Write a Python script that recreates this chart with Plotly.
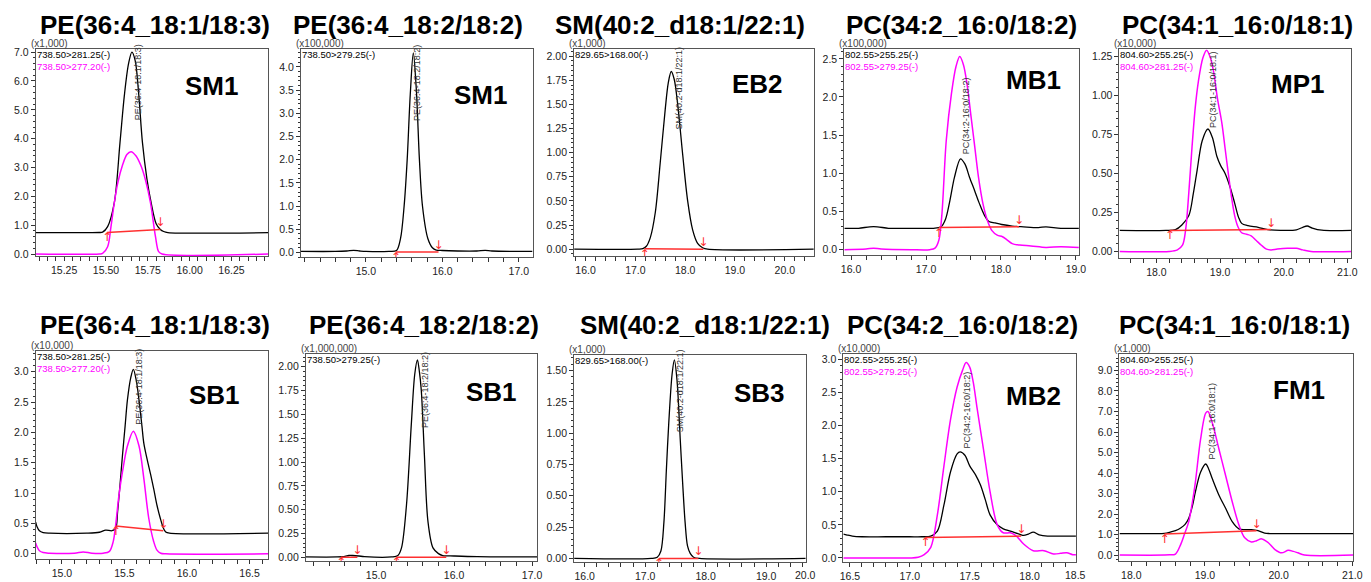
import plotly.graph_objects as go

# ------------------------------------------------------------------ data
# Row 1, col 1 : PE(36:4_18:1/18:3)  SM1  (x1,000)
p1_t_black = [15.08, 15.40, 15.46, 15.48, 15.51, 15.55, 15.584, 15.61, 15.635, 15.655, 15.675, 15.695, 15.718, 15.745, 15.77, 15.80, 15.825, 15.845, 15.87, 16.47]
p1_y_black = [0.74, 0.74, 0.745, 0.76, 0.95, 1.78, 3.87, 5.5, 6.6, 7.0, 6.7, 5.6, 3.87, 2.6, 1.78, 1.05, 0.85, 0.78, 0.745, 0.74]
p1_t_mag = [15.08, 15.46, 15.48, 15.51, 15.53, 15.55, 15.57, 15.60, 15.625, 15.65, 15.68, 15.71, 15.737, 15.766, 15.796, 15.815, 15.835, 16.47]
p1_y_mag = [0, 0, 0.02, 0.25, 0.95, 1.78, 2.45, 3.1, 3.45, 3.55, 3.4, 3.05, 2.55, 1.78, 0.6, 0.08, 0, 0]
p1_red_t = [15.506, 15.825]
p1_red_y = [0.75, 0.85]

# Row 1, col 2 : PE(36:4_18:2/18:2)  SM1  (x100,000)
p2_t_black = [14.15, 14.6, 14.75, 14.84, 14.92, 15.0, 15.3, 15.4, 15.453, 15.50, 15.54, 15.58, 15.62, 15.66, 15.70, 15.74, 15.81, 15.87, 15.92, 16.0, 16.2, 16.45, 16.56, 16.65, 17.18]
p2_y_black = [0.02, 0.02, 0.03, 0.045, 0.03, 0.02, 0.02, 0.04, 0.3, 1.0, 2.0, 3.4, 4.3, 3.5, 2.0, 1.0, 0.3, 0.1, 0.05, 0.04, 0.03, 0.03, 0.045, 0.03, 0.02]
p2_red_t = [15.39, 15.95]
p2_red_y = [0.01, 0.01]

# Row 1, col 3 : SM(40:2_d18:1/22:1)  EB2  (x1,000)
p3_t_black = [15.77, 17.05, 17.15, 17.22, 17.30, 17.40, 17.50, 17.60, 17.66, 17.72, 17.78, 17.85, 17.95, 18.05, 18.15, 18.25, 18.35, 18.45, 20.6]
p3_y_black = [0, 0, 0.005, 0.03, 0.12, 0.38, 0.9, 1.45, 1.72, 1.84, 1.76, 1.5, 0.98, 0.5, 0.2, 0.06, 0.015, 0.0, 0]
p3_red_t = [17.185, 18.366]
p3_red_y = [0.005, 0.0]

# Row 1, col 4 : PC(34:2_16:0/18:2)  MB1  (x100,000)
p4_t_black = [15.91, 16.1, 16.25, 16.35, 16.5, 16.7, 16.9, 17.1, 17.2, 17.26, 17.32, 17.38, 17.46, 17.52, 17.58, 17.65, 17.71, 17.78, 17.84, 17.92, 18.01, 18.15, 18.3, 18.5, 18.6, 18.8, 19.04]
p4_y_black = [0.28, 0.28, 0.30, 0.30, 0.28, 0.28, 0.28, 0.28, 0.30, 0.40, 0.65, 0.95, 1.19, 1.12, 0.95, 0.77, 0.61, 0.45, 0.37, 0.35, 0.33, 0.31, 0.30, 0.29, 0.30, 0.28, 0.28]
p4_t_mag = [15.91, 16.2, 16.3, 16.4, 16.8, 17.05, 17.12, 17.17, 17.21, 17.27, 17.34, 17.40, 17.45, 17.50, 17.55, 17.60, 17.65, 17.70, 17.76, 17.82, 17.88, 17.95, 18.02, 18.08, 18.15, 18.25, 18.4, 18.6, 18.8, 19.04]
p4_y_mag = [0.0, 0.01, 0.02, 0.01, 0.0, 0.0, 0.02, 0.12, 0.44, 1.43, 2.05, 2.4, 2.53, 2.42, 2.15, 1.75, 1.35, 0.95, 0.6, 0.38, 0.25, 0.19, 0.17, 0.13, 0.08, 0.06, 0.05, 0.03, 0.04, 0.03]
p4_red_t = [17.17, 18.24]
p4_red_y = [0.29, 0.30]

# Row 1, col 5 : PC(34:1_16:0/18:1)  MP1  (x10,000)
p5_t_black = [17.42, 18.15, 18.3, 18.4, 18.51, 18.58, 18.64, 18.72, 18.81, 18.88, 18.95, 19.01, 19.08, 19.16, 19.23, 19.29, 19.34, 19.44, 19.6, 19.75, 19.95, 20.2, 20.3, 20.37, 20.45, 20.6, 21.06]
p5_y_black = [0.135, 0.135, 0.14, 0.17, 0.23, 0.37, 0.52, 0.71, 0.785, 0.73, 0.61, 0.55, 0.50, 0.41, 0.31, 0.22, 0.18, 0.165, 0.155, 0.14, 0.135, 0.138, 0.155, 0.163, 0.15, 0.136, 0.135]
p5_t_mag = [17.42, 18.2, 18.33, 18.41, 18.46, 18.51, 18.56, 18.61, 18.66, 18.73, 18.79, 18.85, 18.90, 18.96, 19.03, 19.08, 19.13, 19.18, 19.23, 19.28, 19.34, 19.42, 19.49, 19.57, 19.65, 19.73, 19.80, 19.9, 20.06, 20.2, 20.3, 20.43, 21.06]
p5_y_mag = [0, 0, 0.01, 0.04, 0.14, 0.38, 0.67, 0.92, 1.09, 1.24, 1.29, 1.24, 1.15, 0.98, 0.82, 0.66, 0.5, 0.35, 0.23, 0.16, 0.12, 0.11, 0.10, 0.07, 0.04, 0.015, 0.01, 0.015, 0.02, 0.02, 0.01, 0.0, 0.0]
p5_red_t = [18.21, 19.80]
p5_red_y = [0.135, 0.14]

# Row 2, col 1 : PE(36:4_18:1/18:3)  SB1  (x10,000)
p6_t_black = [14.79, 14.80, 14.82, 14.85, 14.90, 15.20, 15.30, 15.35, 15.40, 15.43, 15.445, 15.465, 15.484, 15.505, 15.524, 15.55, 15.571, 15.595, 15.616, 15.64, 15.655, 15.681, 15.71, 15.734, 15.76, 15.786, 15.812, 15.83, 15.86, 16.65]
p6_y_black = [0.52, 0.45, 0.38, 0.35, 0.34, 0.34, 0.355, 0.39, 0.38, 0.42, 0.69, 1.15, 1.62, 2.1, 2.54, 2.9, 3.04, 2.85, 2.54, 2.1, 1.82, 1.56, 1.3, 1.07, 0.8, 0.59, 0.42, 0.36, 0.34, 0.34]
p6_t_mag = [14.79, 14.80, 14.82, 14.85, 14.90, 15.10, 15.17, 15.24, 15.33, 15.38, 15.41, 15.43, 15.455, 15.484, 15.524, 15.571, 15.616, 15.655, 15.694, 15.734, 15.76, 15.79, 15.83, 16.65]
p6_y_mag = [0.18, 0.12, 0.05, 0.02, 0.01, 0.01, 0.03, 0.01, 0.01, 0.04, 0.2, 0.48, 0.95, 1.35, 1.78, 2.02, 1.78, 1.24, 0.59, 0.2, 0.06, 0.01, 0, 0]
p6_red_t = [15.43, 15.81]
p6_red_y = [0.46, 0.38]

# Row 2, col 2 : PE(36:4_18:2/18:2)  SB1  (x1,000,000)
p7_t_black = [14.1, 14.5, 14.6, 14.65, 14.7, 14.78, 14.85, 15.2, 15.28, 15.326, 15.39, 15.453, 15.496, 15.53, 15.555, 15.58, 15.62, 15.665, 15.73, 15.8, 15.855, 16.0, 16.3, 17.07]
p7_y_black = [0.005, 0.005, 0.01, 0.02, 0.02, 0.015, 0.008, 0.005, 0.02, 0.1, 0.55, 1.41, 1.92, 2.07, 1.95, 1.75, 1.07, 0.38, 0.1, 0.04, 0.02, 0.015, 0.008, 0.005]
p7_red_t = [14.55, 14.76, None, 15.26, 15.90]
p7_red_y = [0.003, 0.003, None, 0.003, 0.003]

# Row 2, col 3 : SM(40:2_d18:1/22:1)  SB3  (x1,000)
p8_t_black = [15.825, 17.1, 17.2, 17.26, 17.31, 17.35, 17.39, 17.445, 17.483, 17.527, 17.58, 17.62, 17.66, 17.70, 17.745, 17.8, 17.9, 19.655]
p8_y_black = [0, 0, 0.01, 0.06, 0.29, 0.7, 1.08, 1.47, 1.585, 1.42, 0.95, 0.6, 0.29, 0.1, 0.04, 0.01, 0, 0]
p8_red_t = [17.227, 17.88]
p8_red_y = [0.0, 0.0]

# Row 2, col 4 : PC(34:2_16:0/18:2)  MB2  (x10,000)
p9_t_black = [16.445, 16.47, 16.52, 16.6, 16.8, 17.0, 17.1, 17.175, 17.23, 17.285, 17.34, 17.395, 17.42, 17.46, 17.5, 17.55, 17.59, 17.63, 17.67, 17.73, 17.78, 17.84, 17.92, 17.95, 17.99, 18.03, 18.08, 18.15, 18.25, 18.387]
p9_y_black = [0.36, 0.35, 0.33, 0.32, 0.32, 0.32, 0.32, 0.33, 0.405, 0.80, 1.30, 1.57, 1.60, 1.55, 1.39, 1.25, 1.10, 0.88, 0.65, 0.50, 0.44, 0.405, 0.356, 0.34, 0.36, 0.39, 0.35, 0.33, 0.33, 0.33]
p9_t_mag = [16.445, 16.8, 17.0, 17.07, 17.12, 17.175, 17.23, 17.285, 17.34, 17.395, 17.44, 17.47, 17.5, 17.53, 17.56, 17.615, 17.67, 17.73, 17.78, 17.84, 17.89, 17.95, 18.03, 18.12, 18.2, 18.26, 18.31, 18.36, 18.387]
p9_y_mag = [0, 0, 0, 0.01, 0.05, 0.16, 0.65, 1.39, 2.09, 2.58, 2.83, 2.95, 2.88, 2.65, 2.28, 1.64, 1.0, 0.50, 0.38, 0.38, 0.33, 0.21, 0.11, 0.11, 0.06, 0.07, 0.08, 0.05, 0.05]
p9_red_t = [17.13, 17.93]
p9_red_y = [0.31, 0.33]

# Row 2, col 5 : PC(34:1_16:0/18:1)  FM1  (x1,000)
p10_t_black = [17.84, 18.3, 18.45, 18.53, 18.60, 18.67, 18.73, 18.78, 18.83, 18.87, 18.94, 19.01, 19.05, 19.10, 19.19, 19.28, 19.37, 19.46, 19.54, 19.63, 19.72, 19.81, 19.88, 20.0, 21.01]
p10_y_black = [1.05, 1.05, 1.06, 1.12, 1.19, 1.32, 1.5, 1.8, 2.4, 3.08, 4.04, 4.44, 4.2, 3.72, 2.92, 2.28, 1.63, 1.28, 1.24, 1.24, 1.19, 1.07, 1.05, 1.05, 1.05]
p10_t_mag = [17.84, 18.45, 18.52, 18.60, 18.67, 18.72, 18.78, 18.83, 18.87, 18.94, 19.01, 19.04, 19.10, 19.19, 19.28, 19.37, 19.46, 19.54, 19.63, 19.70, 19.77, 19.86, 19.95, 20.04, 20.13, 20.2, 20.26, 20.35, 21.01]
p10_y_mag = [0, 0, 0.01, 0.05, 0.51, 1.0, 1.63, 2.6, 3.56, 5.64, 6.92, 7.0, 6.44, 5.16, 3.88, 2.6, 1.48, 0.84, 0.64, 0.7, 0.79, 0.6, 0.27, 0.11, 0.23, 0.18, 0.11, 0.0, 0.0]
p10_red_t = [18.45, 19.70]
p10_red_y = [1.03, 1.19]

titles = ["PE(36:4_18:1/18:3)", "PE(36:4_18:2/18:2)", "SM(40:2_d18:1/22:1)",
          "PC(34:2_16:0/18:2)", "PC(34:1_16:0/18:1)"]
peak_names = ["PE(36:4-18:1/18:3)", "PE(36:4-18:2/18:2)", "SM(40:2-d18:1/22:1)",
              "PC(34:2-16:0/18:2)", "PC(34:1-16:0/18:1)"]
samples = ["SM1", "SM1", "EB2", "MB1", "MP1", "SB1", "SB1", "SB3", "MB2", "FM1"]
multipliers = ["(x1,000)", "(x100,000)", "(x1,000)", "(x100,000)", "(x10,000)",
               "(x10,000)", "(x1,000,000)", "(x1,000)", "(x10,000)", "(x1,000)"]
mrm_black = ["738.50>281.25(-)", "738.50>279.25(-)", "829.65>168.00(-)", "802.55>255.25(-)", "804.60>255.25(-)"]
mrm_mag = ["738.50>277.20(-)", None, None, "802.55>279.25(-)", "804.60>281.25(-)"]

# ------------------------------------------------------------------ style / layout
W, H = 1371, 582
FONT = "Liberation Sans, Arial, Helvetica, sans-serif"
BLACK, MAG, RED = "#000000", "#ff00ff", "#ff3030"

panels = [
    dict(box=(32, 47, 267, 257), xr=[15.08, 16.47], yr=[-0.07, 7.1], xd=0.25, xm=0.05, xf=".2f", yd=1.0, ym=0.2, yf=".1f",
         tx=153, ty=22, sx=0.757, sy=0.82, blk=(p1_t_black, p1_y_black), mag=(p1_t_mag, p1_y_mag),
         red=(p1_red_t, p1_red_y), peak=(15.69, 4.56), col=0),
    dict(box=(300, 47, 534, 258), xr=[14.15, 17.18], yr=[-0.1, 4.38], xd=1.0, xm=0.2, xf=".1f", yd=0.5, ym=0.1, yf=".1f",
         tx=408, ty=22, sx=0.776, sy=0.78, blk=(p2_t_black, p2_y_black), mag=None,
         red=(p2_red_t, p2_red_y), peak=(15.66, 2.8), col=1),
    dict(box=(576, 47, 818, 257), xr=[15.77, 20.58], yr=[-0.071, 2.07], xd=1.0, xm=0.2, xf=".1f", yd=0.25, ym=0.05, yf=".2f",
         tx=683, ty=22, sx=0.767, sy=0.83, blk=(p3_t_black, p3_y_black), mag=None,
         red=(p3_red_t, p3_red_y), peak=(17.87, 1.22), col=2),
    dict(box=(849, 47, 1086, 256), xr=[15.91, 19.04], yr=[-0.07, 2.625], xd=1.0, xm=0.2, xf=".1f", yd=0.5, ym=0.1, yf=".1f",
         tx=967, ty=22, sx=0.806, sy=0.85, blk=(p4_t_black, p4_y_black), mag=(p4_t_mag, p4_y_mag),
         red=(p4_red_t, p4_red_y), peak=(17.535, 1.22), col=3),
    dict(box=(1127, 47, 1361, 259), xr=[17.42, 21.06], yr=[-0.042, 1.296], xd=1.0, xm=0.2, xf=".1f", yd=0.25, ym=0.05, yf=".2f",
         tx=1246, ty=22, sx=0.768, sy=0.836, blk=(p5_t_black, p5_y_black), mag=(p5_t_mag, p5_y_mag),
         red=(p5_red_t, p5_red_y), peak=(18.90, 0.78), col=4),
    dict(box=(32, 353, 267, 565), xr=[14.79, 16.65], yr=[-0.09, 3.35], xd=0.5, xm=0.1, xf=".1f", yd=0.5, ym=0.1, yf=".1f",
         tx=153, ty=327, sx=0.77, sy=0.786, blk=(p6_t_black, p6_y_black), mag=(p6_t_mag, p6_y_mag),
         red=(p6_red_t, p6_red_y), peak=(15.62, 2.1), col=0),
    dict(box=(305, 357, 539, 567), xr=[14.1, 17.07], yr=[-0.04, 2.127], xd=1.0, xm=0.2, xf=".1f", yd=0.25, ym=0.05, yf=".2f",
         tx=424, ty=327, sx=0.80, sy=0.82, blk=(p7_t_black, p7_y_black), mag=None,
         red=(p7_red_t, p7_red_y), peak=(15.62, 1.34), col=1),
    dict(box=(576, 358, 810, 568), xr=[15.825, 19.655], yr=[-0.03, 1.62], xd=1.0, xm=0.2, xf=".1f", yd=0.25, ym=0.05, yf=".2f",
         tx=708, ty=327, sx=0.80, sy=0.82, blk=(p8_t_black, p8_y_black), mag=None,
         red=(p8_red_t, p8_red_y), peak=(17.58, 0.99), col=2, edge="20.0"),
    dict(box=(848, 357, 1083, 568), xr=[16.445, 18.387], yr=[-0.064, 3.07], xd=0.5, xm=0.1, xf=".1f", yd=0.5, ym=0.1, yf=".1f",
         tx=968, ty=327, sx=0.817, sy=0.80, blk=(p9_t_black, p9_y_black), mag=(p9_t_mag, p9_y_mag),
         red=(p9_red_t, p9_red_y), peak=(17.48, 1.62), col=3, edge="18.5"),
    dict(box=(1127, 357, 1363, 567), xr=[17.84, 21.01], yr=[-0.3, 9.78], xd=1.0, xm=0.2, xf=".1f", yd=1.0, ym=0.2, yf=".1f",
         tx=1243, ty=327, sx=0.77, sy=0.83, blk=(p10_t_black, p10_y_black), mag=(p10_t_mag, p10_y_mag),
         red=(p10_red_t, p10_red_y), peak=(19.10, 4.55), col=4),
]

fig = go.Figure()
annotations = []
layout_axes = {}

for i, p in enumerate(panels, start=1):
    sfx = "" if i == 1 else str(i)
    xref, yref = "x" + sfx, "y" + sfx
    x0, y0, x1, y1 = p["box"]
    tickfont = dict(family=FONT, size=10.5, color="#222")
    common = dict(showgrid=False, zeroline=False, showline=True, linecolor="#555", linewidth=1,
                  mirror=True, ticks="outside", ticklen=4, tickcolor="#333", tickfont=tickfont)
    layout_axes["xaxis" + sfx] = dict(common, domain=[x0 / W, x1 / W], range=p["xr"], anchor=yref,
                                      dtick=p["xd"], tick0=0, tickformat=p["xf"],
                                      minor=dict(dtick=p["xm"], tick0=0, ticks="outside", ticklen=4, tickcolor="#333"))
    layout_axes["yaxis" + sfx] = dict(common, domain=[1 - y1 / H, 1 - y0 / H], range=p["yr"], anchor=xref,
                                      dtick=p["yd"], tick0=0, tickformat=p["yf"], ticklen=4,
                                      minor=dict(dtick=p["ym"], tick0=0, ticks="outside", ticklen=2, tickcolor="#333"))

    bt, by = p["blk"]
    fig.add_trace(go.Scatter(x=bt, y=by, mode="lines", line=dict(color=BLACK, width=1.3, shape="spline", smoothing=0.9),
                             xaxis=xref, yaxis=yref, hoverinfo="skip"))
    if p["mag"] is not None:
        mt, my = p["mag"]
        fig.add_trace(go.Scatter(x=mt, y=my, mode="lines", line=dict(color=MAG, width=1.5, shape="spline", smoothing=0.9),
                                 xaxis=xref, yaxis=yref, hoverinfo="skip"))
    rt, ry = p["red"]
    fig.add_trace(go.Scatter(x=rt, y=ry, mode="lines", line=dict(color=RED, width=1.5),
                             xaxis=xref, yaxis=yref, hoverinfo="skip", connectgaps=False))
    # integration arrows at segment start (up) and end (down)
    ups_t, ups_y, dns_t, dns_y = [], [], [], []
    seg = []
    for t, v in list(zip(rt, ry)) + [(None, None)]:
        if t is None:
            if seg:
                ups_t.append(seg[0][0]); ups_y.append(seg[0][1])
                dns_t.append(seg[-1][0]); dns_y.append(seg[-1][1])
            seg = []
        else:
            seg.append((t, v))
    fig.add_trace(go.Scatter(x=ups_t, y=ups_y, mode="text", text=["↑"] * len(ups_t), textposition="bottom center",
                             textfont=dict(color=RED, size=12, family="DejaVu Sans"), xaxis=xref, yaxis=yref, hoverinfo="skip"))
    fig.add_trace(go.Scatter(x=dns_t, y=dns_y, mode="text", text=["↓"] * len(dns_t), textposition="top center",
                             textfont=dict(color=RED, size=12, family="DejaVu Sans"), xaxis=xref, yaxis=yref, hoverinfo="skip"))

    c = p["col"]
    dx, dy = xref + " domain", yref + " domain"
    # compound title
    annotations.append(dict(text="<b>%s</b>" % titles[c], x=p["tx"] / W, y=1 - p["ty"] / H, xref="paper", yref="paper",
                            xanchor="center", yanchor="middle", showarrow=False,
                            font=dict(family=FONT, size=26, color="#000")))
    # sample tag
    annotations.append(dict(text="<b>%s</b>" % samples[i - 1], x=p["sx"], y=p["sy"], xref=dx, yref=dy,
                            xanchor="center", yanchor="middle", showarrow=False,
                            font=dict(family=FONT, size=26, color="#000")))
    # multiplier (above the frame)
    annotations.append(dict(text=multipliers[i - 1], x=0, y=1, xref=dx, yref=dy, xanchor="left", yanchor="bottom",
                            xshift=-6, yshift=-1, borderpad=0, showarrow=False,
                            font=dict(family=FONT, size=10, color="#444")))
    # MRM transitions (one text block, black then magenta line)
    mrm = mrm_black[c]
    if mrm_mag[c] is not None and p["mag"] is not None:
        mrm += "<br><span style='color:%s'>%s</span>" % (MAG, mrm_mag[c])
    annotations.append(dict(text=mrm, x=0, y=1, xref=dx, yref=dy, xanchor="left", yanchor="top", align="left",
                            yshift=1, borderpad=0, showarrow=False, font=dict(family=FONT, size=9.5, color="#000")))
    # peak label (vertical)
    px_, py_ = p["peak"]
    annotations.append(dict(text=peak_names[c], x=px_, y=py_, xref=xref, yref=yref, xanchor="center", yanchor="bottom",
                            textangle=-90, showarrow=False, font=dict(family=FONT, size=9, color="#333")))
    # last axis label clamped at the right edge (as in the instrument export)
    if p.get("edge"):
        annotations.append(dict(text=p["edge"], x=1, y=0, xref=dx, yref=dy, xanchor="center", yanchor="top",
                                yshift=-5, showarrow=False, font=tickfont))

fig.update_layout(**layout_axes)
fig.update_layout(width=W, height=H, margin=dict(l=0, r=0, t=0, b=0), showlegend=False,
                  paper_bgcolor="white", plot_bgcolor="white", annotations=annotations,
                  font=dict(family=FONT))

fig.write_html("out.html", config={"displayModeBar": False},
               post_script="document.body.style.margin='0';document.body.style.overflow='hidden';")
